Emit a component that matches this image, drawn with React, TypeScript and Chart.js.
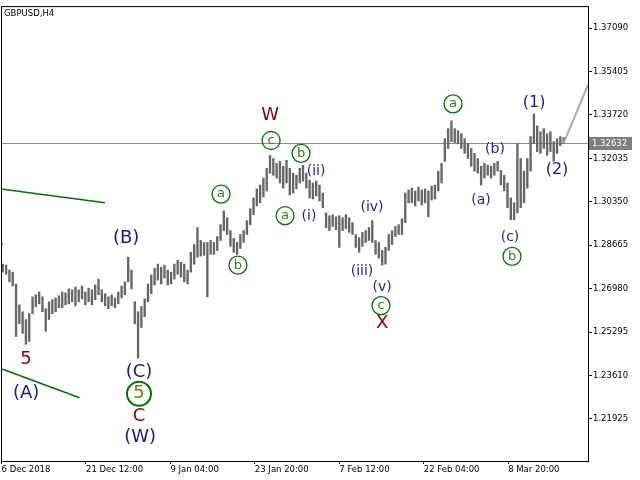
import React, { useEffect, useRef } from "react";
import { Chart, registerables } from "chart.js";

Chart.register(...registerables);

// ---------- data ----------
const chartTitle = "GBPUSD,H4";
const firstBarIndex = 1; // H4 bar index of the first plotted entry
const barsPerEntry = 2.5; // H4 bars merged into one plotted entry

const barHigh = [
  1.2793, 1.2789, 1.2770, 1.2762, 1.2716, 1.2635, 1.2608, 1.2578, 1.2601, 1.2666,
  1.2674, 1.2685, 1.2666, 1.2620, 1.2647, 1.2655, 1.2662, 1.2670, 1.2685, 1.2681,
  1.2697, 1.2693, 1.2704, 1.2693, 1.2708, 1.2685, 1.2700, 1.2693, 1.2712, 1.2735,
  1.2693, 1.2678, 1.2666, 1.2674, 1.2662, 1.2685, 1.2708, 1.2724, 1.2820, 1.2770,
  1.2647, 1.2608, 1.2628, 1.2658, 1.2716, 1.2751, 1.2777, 1.2793, 1.2781, 1.2789,
  1.2770, 1.2762, 1.2793, 1.2808, 1.2800, 1.2793, 1.2770, 1.2839, 1.2869, 1.2935,
  1.2885, 1.2877, 1.2877, 1.2885, 1.2877, 1.2900, 1.2946, 1.3000, 1.2973, 1.2923,
  1.2893, 1.2877, 1.2908, 1.2923, 1.2962, 1.3008, 1.3050, 1.3085, 1.3100, 1.3127,
  1.3165, 1.3215, 1.3203, 1.3184, 1.3192, 1.3173, 1.3196, 1.3165, 1.3146, 1.3138,
  1.3165, 1.3177, 1.3146, 1.3119, 1.3108, 1.3115, 1.3100, 1.3069, 1.2992, 1.2981,
  1.2985, 1.2977, 1.2981, 1.2973, 1.2985, 1.2973, 1.2954, 1.2908, 1.2896, 1.2916,
  1.2923, 1.2935, 1.2962, 1.2885, 1.2877, 1.2846, 1.2858, 1.2908, 1.2923, 1.2939,
  1.2946, 1.2969, 1.3069, 1.3081, 1.3088, 1.3077, 1.3092, 1.3081, 1.3085, 1.3077,
  1.3096, 1.3100, 1.3154, 1.3184, 1.3280, 1.3319, 1.3349, 1.3319, 1.3311, 1.3299,
  1.3280, 1.3261, 1.3242, 1.3223, 1.3203, 1.3173, 1.3184, 1.3177, 1.3173, 1.3184,
  1.3192, 1.3157, 1.3138, 1.3108, 1.3050, 1.3031, 1.3261, 1.3203, 1.3154, 1.3203,
  1.3288, 1.3376, 1.3330, 1.3307, 1.3319, 1.3299, 1.3307, 1.3269, 1.3280, 1.3288,
  1.3284,
];

const barLow = [
  1.2762, 1.2754, 1.2724, 1.2708, 1.2512, 1.2562, 1.2524, 1.2482, 1.2493, 1.2601,
  1.2628, 1.2639, 1.2608, 1.2532, 1.2578, 1.2601, 1.2608, 1.2624, 1.2624, 1.2635,
  1.2639, 1.2647, 1.2631, 1.2647, 1.2658, 1.2635, 1.2647, 1.2635, 1.2655, 1.2674,
  1.2647, 1.2631, 1.2620, 1.2631, 1.2624, 1.2639, 1.2662, 1.2674, 1.2724, 1.2697,
  1.2562, 1.2428, 1.2547, 1.2589, 1.2647, 1.2678, 1.2712, 1.2731, 1.2716, 1.2739,
  1.2712, 1.2716, 1.2735, 1.2754, 1.2743, 1.2724, 1.2716, 1.2762, 1.2793, 1.2820,
  1.2824, 1.2827, 1.2666, 1.2831, 1.2831, 1.2846, 1.2885, 1.2923, 1.2908, 1.2862,
  1.2839, 1.2831, 1.2854, 1.2877, 1.2908, 1.2946, 1.2985, 1.3019, 1.3031, 1.3054,
  1.3077, 1.3146, 1.3138, 1.3127, 1.3108, 1.3088, 1.3108, 1.3061, 1.3069, 1.3085,
  1.3108, 1.3115, 1.3088, 1.3050, 1.3046, 1.3058, 1.3038, 1.3012, 1.2935, 1.2923,
  1.2939, 1.2927, 1.2858, 1.2923, 1.2931, 1.2916, 1.2908, 1.2858, 1.2839, 1.2862,
  1.2877, 1.2885, 1.2877, 1.2831, 1.2816, 1.2789, 1.2793, 1.2846, 1.2869, 1.2900,
  1.2908, 1.2908, 1.2954, 1.3031, 1.3031, 1.3019, 1.3038, 1.3023, 1.3031, 1.2977,
  1.3042, 1.3046, 1.3077, 1.3108, 1.3192, 1.3242, 1.3269, 1.3265, 1.3261, 1.3242,
  1.3223, 1.3203, 1.3173, 1.3154, 1.3146, 1.3100, 1.3127, 1.3138, 1.3127, 1.3138,
  1.3154, 1.3100, 1.3077, 1.3012, 1.2966, 1.2966, 1.2992, 1.3012, 1.3031, 1.3088,
  1.3154, 1.3261, 1.3230, 1.3223, 1.3242, 1.3215, 1.3230, 1.3192, 1.3223, 1.3253,
  1.3261,
];

const priceTicks = [1.21925, 1.2361, 1.25295, 1.2698, 1.28665, 1.3035, 1.32035, 1.3372, 1.35405, 1.3709];
const priceMin = 1.20287;
const priceMax = 1.37947;

const timeTickIndex = [0, 64, 128, 192, 256, 320, 384];
const timeTickLabels = ["6 Dec 2018", "21 Dec 12:00", "9 Jan 04:00", "23 Jan 20:00", "7 Feb 12:00", "22 Feb 04:00", "8 Mar 20:00"];
const indexMin = -0.4;
const indexMax = 444.5;

const lastPrice = 1.32632;

const projectionIndex = [426, 445];
const projectionPrice = [1.3263, 1.3495];
const upperTrendIndex = [-1.1, 78.4];
const upperTrendPrice = [1.3085, 1.3031];
const lowerTrendIndex = [0.4, 59.2];
const lowerTrendPrice = [1.2386, 1.2274];

const waveText = ["4", "5", "(A)", "(B)", "(C)", "5", "C", "(W)", "a", "b", "W", "c", "b", "(ii)", "a", "(i)", "(iv)", "(iii)", "(v)", "c", "X", "a", "(b)", "(a)", "(c)", "b", "(1)", "(2)"];
const waveIndex = [-2.6, 18.6, 18.6, 94.4, 104.2, 104.2, 104.2, 105, 166.4, 179.2, 203.5, 204.3, 227, 238.4, 214.9, 233, 280.8, 273.2, 288.4, 287.6, 288.4, 342.2, 374, 363.4, 385.4, 386.9, 403.6, 421];
const wavePrice = [1.2877, 1.2428, 1.2294, 1.2896, 1.2378, 1.229, 1.2205, 1.2125, 1.3065, 1.2789, 1.3376, 1.3273, 1.3223, 1.3157, 1.2981, 1.2981, 1.3019, 1.277, 1.2708, 1.2632, 1.2566, 1.3415, 1.3242, 1.3046, 1.29, 1.2823, 1.3422, 1.3161];
const waveDegree = ["primary", "primary", "intermediate", "intermediate", "intermediate", "cycle", "primary", "intermediate", "minute", "minute", "primary", "minute", "minute", "minuette", "minute", "minuette", "minuette", "minuette", "minuette", "minute", "primary", "minute", "minuette", "minuette", "minuette", "minute", "minor", "minor"];

// ---------- styles ----------
const FONT = "DejaVu Sans";
const degreeStyle: Record<string, any> = {
  primary: { color: "#8b0000", size: 18 },
  intermediate: { color: "#1a1a80", size: 18 },
  minor: { color: "#1a1a80", size: 16 },
  minuette: { color: "#1f1f90", size: 14 },
  minute: { color: "#3a7a12", size: 13, ring: "#0b6b0b", radius: 9, ringWidth: 1.3 },
  cycle: { color: "#6f7d00", size: 18, ring: "#0b6b0b", radius: 12, ringWidth: 2 },
};

const overlayPlugin = {
  id: "overlay",
  beforeDatasetsDraw(chart: any) {
    const { ctx, chartArea, scales } = chart;
    const y = Math.round(scales.y.getPixelForValue(lastPrice)) + 0.5;
    ctx.save();
    ctx.strokeStyle = "#8c8c8c";
    ctx.lineWidth = 1;
    ctx.beginPath();
    ctx.moveTo(chartArea.left, y);
    ctx.lineTo(chartArea.right, y);
    ctx.stroke();
    ctx.restore();
  },
  afterDatasetsDraw(chart: any) {
    const { ctx, chartArea, scales } = chart;
    ctx.save();
    ctx.beginPath();
    ctx.rect(chartArea.left, chartArea.top, chartArea.right - chartArea.left, chartArea.bottom - chartArea.top);
    ctx.clip();
    ctx.textAlign = "center";
    ctx.textBaseline = "middle";
    for (let i = 0; i < waveText.length; i++) {
      const st = degreeStyle[waveDegree[i]];
      const x = scales.x.getPixelForValue(waveIndex[i]);
      const y = scales.y.getPixelForValue(wavePrice[i]);
      if (st.ring) {
        ctx.beginPath();
        ctx.arc(x, y, st.radius, 0, Math.PI * 2);
        ctx.strokeStyle = st.ring;
        ctx.lineWidth = st.ringWidth;
        ctx.stroke();
      }
      ctx.fillStyle = st.color;
      ctx.font = `${st.size}px "${FONT}"`;
      ctx.fillText(waveText[i], x, y + (st.ring ? 0 : 1));
    }
    ctx.restore();
  },
  afterDraw(chart: any) {
    const { ctx, chartArea, scales } = chart;
    ctx.save();
    ctx.strokeStyle = "#000";
    ctx.lineWidth = 1;
    ctx.strokeRect(chartArea.left + 0.5, chartArea.top + 0.5, chartArea.right - chartArea.left, chartArea.bottom - chartArea.top);
    ctx.fillStyle = "#000";
    ctx.font = `8.5px "${FONT}"`;
    ctx.textAlign = "left";
    ctx.textBaseline = "middle";
    ctx.fillText(chartTitle, chartArea.left + 3, chartArea.top + 8);
    const py = Math.round(scales.y.getPixelForValue(lastPrice));
    ctx.fillStyle = "#7f7f7f";
    ctx.fillRect(chartArea.right + 1, py - 6, 43, 13);
    ctx.fillStyle = "#fff";
    ctx.fillText(lastPrice.toFixed(5), chartArea.right + 4, py + 1);
    ctx.restore();
  },
};

export default function App() {
  const canvasRef = useRef<HTMLCanvasElement | null>(null);

  useEffect(() => {
    document.body.style.margin = "0";
    const canvas = canvasRef.current;
    if (!canvas) return;
    const tickFont = { family: FONT, size: 8.5 };
    const chart = new Chart(canvas, {
      type: "bar",
      data: {
        datasets: [
          {
            type: "line",
            data: upperTrendIndex.map((x, i) => ({ x, y: upperTrendPrice[i] })),
            borderColor: "#0b6b0b",
            borderWidth: 1.5,
            pointRadius: 0,
          },
          {
            type: "line",
            data: lowerTrendIndex.map((x, i) => ({ x, y: lowerTrendPrice[i] })),
            borderColor: "#0b6b0b",
            borderWidth: 1.5,
            pointRadius: 0,
          },
          {
            type: "line",
            data: projectionIndex.map((x, i) => ({ x, y: projectionPrice[i] })),
            borderColor: "#ababab",
            borderWidth: 2,
            pointRadius: 0,
          },
          {
            type: "bar",
            data: barHigh.map((h, i) => ({ x: firstBarIndex + i * barsPerEntry, y: [barLow[i], h] })),
            backgroundColor: "#666666",
            borderWidth: 0,
            barThickness: 1.7,
            grouped: false,
          },
        ] as any,
      },
      options: {
        animation: false,
        responsive: false,
        events: [],
        layout: { padding: { left: 1, top: 1, right: 0, bottom: 0 } },
        plugins: { legend: { display: false }, tooltip: { enabled: false } },
        scales: {
          x: {
            type: "linear",
            min: indexMin,
            max: indexMax,
            offset: false,
            afterFit: (s: any) => {
              s.height = 19;
            },
            afterBuildTicks: (s: any) => {
              s.ticks = timeTickIndex.map((v) => ({ value: v }));
            },
            ticks: {
              callback: (_v: any, i: number) => timeTickLabels[i],
              align: "start",
              maxRotation: 0,
              minRotation: 0,
              autoSkip: false,
              padding: 1,
              color: "#000",
              font: tickFont,
            },
            grid: { drawOnChartArea: false, drawTicks: true, tickLength: 3, color: "#000", offset: false },
            border: { display: false },
          },
          y: {
            type: "linear",
            position: "right",
            min: priceMin,
            max: priceMax,
            afterFit: (s: any) => {
              s.width = 52;
            },
            afterBuildTicks: (s: any) => {
              s.ticks = priceTicks.map((v) => ({ value: v }));
            },
            ticks: {
              callback: (v: any) => Number(v).toFixed(5),
              padding: 1,
              autoSkip: false,
              color: "#000",
              font: tickFont,
            },
            grid: { drawOnChartArea: false, drawTicks: true, tickLength: 4, color: "#000" },
            border: { display: false },
          },
        },
      } as any,
      plugins: [overlayPlugin],
    });
    return () => chart.destroy();
  }, []);

  return (
    <div style={{ width: 640, height: 480, background: "#fff" }}>
      <canvas ref={canvasRef} width={640} height={480} style={{ display: "block", width: 640, height: 480 }} />
    </div>
  );
}
